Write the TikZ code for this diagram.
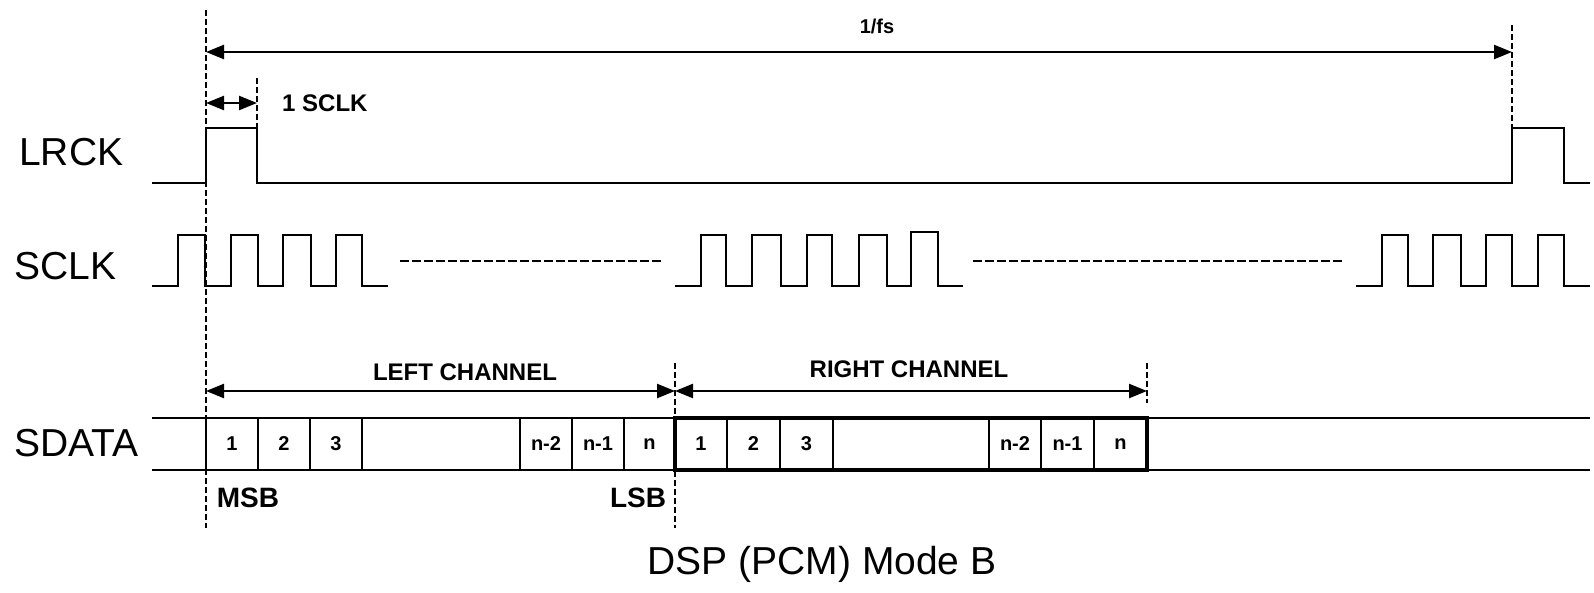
\documentclass[tikz,border=0pt]{standalone}
\usepackage{fontspec}
\setmainfont{Liberation Sans}
\usetikzlibrary{arrows.meta}

\tikzset{
 wave/.style={line width=2.5pt, line join=miter},
 guide/.style={line width=1.6pt, dash pattern=on 6pt off 3pt},
 gap/.style={line width=1.4pt, dash pattern=on 9pt off 3pt},
 span/.style={line width=2.4pt, {Triangle[length=18pt,width=14pt]}-{Triangle[length=18pt,width=14pt]}},
 sig/.style={font=\fontsize{39}{39}\selectfont, anchor=west, inner sep=0pt},
 tag/.style={font=\bfseries\fontsize{24}{24}\selectfont, inner sep=0pt},
 bit/.style={font=\bfseries\fontsize{20}{20}\selectfont, inner sep=0pt},
}

\begin{document}
\begin{tikzpicture}[x=1pt,y=-1pt]
\useasboundingbox (0,0) rectangle (1594,592);

 \node[sig] (lrck) at (19,152) {LRCK};
 \node[sig] (sclk) at (14,266) {SCLK};
 \node[sig] (sdata) at (14,443) {SDATA};

 % LRCK
 \draw[wave] (152,183) -- (206,183) -- (206,128) -- (257,128) -- (257,183)
 -- (1512,183) -- (1512,128) -- (1564,128) -- (1564,183) -- (1590,183);

 % SCLK
 \draw[wave] (152,286) foreach \r/\f in {178/205,231/258,283/311,336/362} {
  -- (\r,286) -- (\r,235) -- (\f,235) -- (\f,286) } -- (388,286);
 \draw[wave] (675,286) foreach \r/\f/\h in {701/726/235,752/781/235,807/832/235,859/887/235,911/938/232} {
  -- (\r,286) -- (\r,\h) -- (\f,\h) -- (\f,286) } -- (963,286);
 \draw[wave] (1356,286) foreach \r/\f in {1382/1408,1433/1461,1486/1512,1538/1564} {
  -- (\r,286) -- (\r,235) -- (\f,235) -- (\f,286) } -- (1590,286);
 \draw[gap] (400,261) -- (662,261);
 \draw[gap] (973,261) -- (1343,261);

 % SDATA
 \draw[wave] (152,418) -- (1590,418);
 \draw[wave] (152,470) -- (1590,470);
 \draw[line width=3.2pt] (675,418) rectangle (1147,470);
 \foreach \x in {206,258,310,362,520,572,624,727,780,833,989,1041,1094}
  \draw[wave] (\x,418) -- (\x,470);
 \foreach \a/\b/\t in {206/258/1,258/310/2,310/362/3,520/572/n-2,572/624/n-1,624/675/n,
  675/727/1,727/780/2,780/833/3,989/1041/n-2,1041/1094/n-1,1094/1147/n}
  \node[bit] (b\a) at ({(\a+\b)/2},444) {\t};
 \node[tag, font=\bfseries\fontsize{28}{28}\selectfont] (msb) at (248,498) {MSB};
 \node[tag, font=\bfseries\fontsize{28}{28}\selectfont] (lsb) at (638,498) {LSB};

 % guides and spans
 \draw[guide] (206,10) -- (206,528);
 \draw[guide] (257,78) -- (257,147);
 \draw[guide] (1512,25) -- (1512,128);
 \draw[guide] (675,363) -- (675,528);
 \draw[guide] (1147,363) -- (1147,403);

 \coordinate (fs0) at (206,52);
 \coordinate (fs1) at (1512,52);
 \coordinate (ck0) at (206,103);
 \coordinate (ck1) at (257,103);
 \coordinate (ch0) at (206,391);
 \coordinate (ch1) at (675,391);
 \coordinate (ch2) at (1147,391);
 \draw[span] (fs0) -- (fs1);
 \draw[span] (ck0) -- (ck1);
 \draw[span] (ch0) -- (ch1);
 \draw[span] (ch1) -- (ch2);
 \node[tag, font=\bfseries\fontsize{20}{20}\selectfont] (fs) at (877,26) {1/fs};
 \node[tag, anchor=west] (onesclk) at (282,103) {1 SCLK};
 \node[tag] (left) at (465,372) {LEFT CHANNEL};
 \node[tag] (right) at (909,369) {RIGHT CHANNEL};

 \node[font=\fontsize{39}{39}\selectfont, inner sep=0pt] (title) at (822,564) {DSP (PCM) Mode B};
\end{tikzpicture}
\end{document}
